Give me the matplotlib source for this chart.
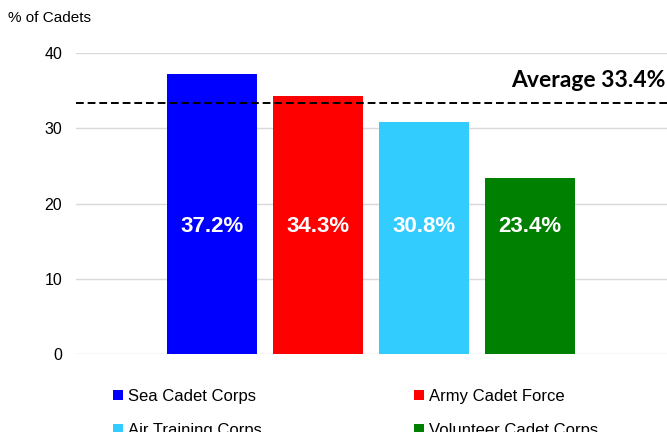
import matplotlib.pyplot as plt
from matplotlib.patches import Patch

categories = ['Sea Cadet Corps', 'Army Cadet Force', 'Air Training Corps', 'Volunteer Cadet Corps']
values = [37.2, 34.3, 30.8, 23.4]
colors = ['#0000ff', '#ff0000', '#33ccff', '#008000']
average = 33.4
yticks = [0, 10, 20, 30, 40]

plt.rcParams['font.family'] = ['Liberation Sans', 'DejaVu Sans']

fig = plt.figure(figsize=(6.67, 4.32), dpi=100)
ax = fig.add_axes([76 / 667, 1 - 354 / 432, (667 - 76) / 667, (354 - 53) / 432])

x = list(range(len(values)))
ax.bar(x, values, width=0.85, color=colors, zorder=2)
for xi, v in zip(x, values):
    ax.text(xi, 17.0, f'{v}%', ha='center', va='center', color='white',
            fontsize=16, fontweight='bold', zorder=3)

ax.axhline(average, color='black', linestyle=(0, (4, 2)), linewidth=1.4, zorder=4)
ax.text(0.997, 35.0, f'Average {average}%', transform=ax.get_yaxis_transform(),
        ha='right', va='bottom', fontsize=16.5, fontweight='bold', family='Lato')

ax.set_xlim(-1.283, 4.29)
ax.set_ylim(0, 40)
ax.set_yticks(yticks)
ax.set_xticks([])
ax.yaxis.grid(True, color='#d9d9d9', linewidth=1, zorder=0)
ax.tick_params(axis='y', length=0, pad=10, labelsize=11.5)
for s in ax.spines.values():
    s.set_visible(False)

fig.text(8 / 667, 1 - 18 / 432, '% of Cadets', ha='left', va='center', fontsize=11)

# legend fills row by row in the reference
order = [0, 2, 1, 3]
handles = [Patch(facecolor=colors[i], label=categories[i]) for i in order]
fig.legend(handles=handles, ncol=2, loc='upper left', bbox_to_anchor=(113 / 667, 1 - 389 / 432),
           frameon=False, fontsize=12, handlelength=0.6, handleheight=0.6, handletextpad=0.3,
           columnspacing=9.15, labelspacing=1.15, borderaxespad=0, borderpad=0)

fig.savefig('out.png', dpi=100)
